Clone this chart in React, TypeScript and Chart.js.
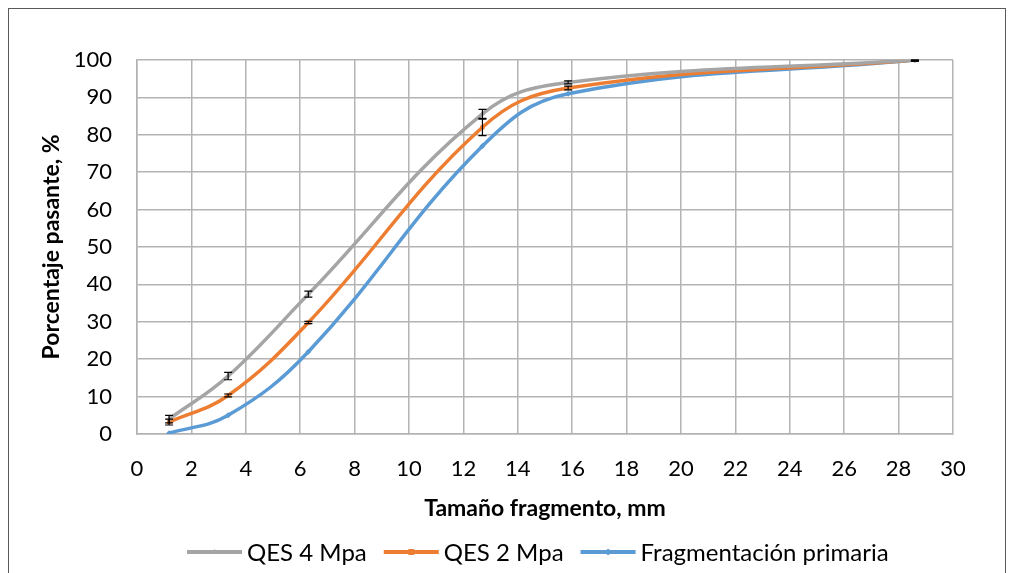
import React, { useEffect, useRef } from "react";
import { Chart, registerables } from "chart.js";

Chart.register(...registerables);

const sizes = [1.18, 3.35, 6.3, 12.7, 15.85, 28.6];
const qes4 = [4, 15.5, 37.4, 85.6, 94, 100];
const qes2 = [3.2, 10.3, 29.8, 82, 92.5, 100];
const primaria = [0.2, 5, 22, 77, 91, 100];
const qes4Err = [1, 1, 0.8, 1.2, 0.4, 0.3];
const qes2Err = [0.8, 0.4, 0.3, 2.2, 0.5, 0.3];
const xTicks = [0, 2, 4, 6, 8, 10, 12, 14, 16, 18, 20, 22, 24, 26, 28, 30];
const yTicks = [0, 10, 20, 30, 40, 50, 60, 70, 80, 90, 100];

const seriesNames = ["QES 4 Mpa", "QES 2 Mpa", "Fragmentación primaria"];
const colors = ["#A5A5A5", "#ED7D31", "#5B9BD5"];
const markers = ["triangle", "rect", "rectRot"];

const FONT = "Lato, 'Open Sans', sans-serif";

function drawMarker(g: CanvasRenderingContext2D, marker: string, x: number, y: number, r: number) {
  g.beginPath();
  if (marker === "triangle") {
    g.moveTo(x, y - r);
    g.lineTo(x + r, y + r * 0.7);
    g.lineTo(x - r, y + r * 0.7);
  } else if (marker === "rect") {
    g.rect(x - r, y - r, 2 * r, 2 * r);
  } else {
    g.moveTo(x, y - r * 1.2);
    g.lineTo(x + r * 1.2, y);
    g.lineTo(x, y + r * 1.2);
    g.lineTo(x - r * 1.2, y);
  }
  g.closePath();
  g.fill();
}

const errorBarPlugin = {
  id: "errorBars",
  afterDatasetsDraw(chart: any) {
    const ctx = chart.ctx;
    const xs = chart.scales.x;
    const ys = chart.scales.y;
    const errs = [qes4Err, qes2Err];
    const vals = [qes4, qes2];
    ctx.save();
    ctx.strokeStyle = "#000";
    ctx.lineWidth = 1.2;
    errs.forEach((err, s) => {
      err.forEach((e, i) => {
        const x = xs.getPixelForValue(sizes[i]);
        const yTop = ys.getPixelForValue(Math.min(100, vals[s][i] + e));
        const yBot = ys.getPixelForValue(vals[s][i] - e);
        ctx.beginPath();
        ctx.moveTo(x, yTop);
        ctx.lineTo(x, yBot);
        ctx.moveTo(x - 4, yTop);
        ctx.lineTo(x + 4, yTop);
        ctx.moveTo(x - 4, yBot);
        ctx.lineTo(x + 4, yBot);
        ctx.stroke();
      });
    });
    ctx.restore();
  },
};

const legendPlugin = {
  id: "bottomLegend",
  afterDraw(chart: any) {
    const ctx = chart.ctx as CanvasRenderingContext2D;
    ctx.save();
    ctx.font = `24px ${FONT}`;
    ctx.textBaseline = "middle";
    ctx.textAlign = "left";
    const y = 543;
    let x = 178;
    seriesNames.forEach((name, i) => {
      ctx.strokeStyle = colors[i];
      ctx.fillStyle = colors[i];
      ctx.lineWidth = 4;
      ctx.beginPath();
      ctx.moveTo(x, y);
      ctx.lineTo(x + 55, y);
      ctx.stroke();
      drawMarker(ctx, markers[i], x + 27.5, y, 3);
      x += 60;
      ctx.fillStyle = "#000";
      ctx.fillText(name, x, y + 1);
      x += ctx.measureText(name).width + 17;
    });
    ctx.restore();
  },
};

export default function App() {
  const ref = useRef<HTMLCanvasElement | null>(null);
  useEffect(() => {
    if (!ref.current) return;
    const series = [qes4, qes2, primaria];
    const chart = new Chart(ref.current, {
      type: "line",
      data: {
        datasets: series.map((vals, s) => ({
          label: seriesNames[s],
          data: sizes.map((x, i) => ({ x, y: vals[i] })),
          borderColor: colors[s],
          backgroundColor: colors[s],
          borderWidth: 3.5,
          pointStyle: markers[s] as any,
          pointRadius: 3,
          pointBorderWidth: 0,
          tension: 0.4,
          fill: false,
        })),
      },
      options: {
        animation: false,
        responsive: false,
        maintainAspectRatio: false,
        layout: { padding: { left: 29, right: 52, top: 51, bottom: 55 } },
        plugins: {
          tooltip: { enabled: false },
          legend: { display: false },
        },
        scales: {
          x: {
            type: "linear",
            min: 0,
            max: 30,
            afterBuildTicks: (axis: any) => {
              axis.ticks = xTicks.map((v) => ({ value: v }));
            },
            afterFit: (axis: any) => {
              axis.height = 88;
            },
            ticks: {
              font: { family: FONT, size: 22 },
              color: "#000",
              padding: 22,
              maxRotation: 0,
            },
            grid: { color: "#B3B3B3", lineWidth: 1.5, tickLength: 0 },
            border: { color: "#B3B3B3", width: 1.5 },
            title: {
              display: true,
              text: "Tamaño fragmento, mm",
              font: { family: FONT, size: 23, weight: "bold" },
              color: "#000",
              padding: 0,
            },
          },
          y: {
            type: "linear",
            min: 0,
            max: 100,
            afterBuildTicks: (axis: any) => {
              axis.ticks = yTicks.map((v) => ({ value: v }));
            },
            afterFit: (axis: any) => {
              axis.width = 99;
            },
            ticks: {
              font: { family: FONT, size: 22 },
              color: "#000",
              padding: 25,
            },
            grid: { color: "#B3B3B3", lineWidth: 1.5, tickLength: 0 },
            border: { color: "#B3B3B3", width: 1.5 },
            title: {
              display: true,
              text: "Porcentaje pasante, %",
              font: { family: FONT, size: 23, weight: "bold" },
              color: "#000",
              padding: 0,
            },
          },
        },
      },
      plugins: [errorBarPlugin, legendPlugin],
    });
    return () => chart.destroy();
  }, []);
  return (
    <div
      style={{
        width: 998,
        height: 570,
        border: "1px solid #595959",
        boxSizing: "border-box",
        background: "#fff",
      }}
    >
      <canvas ref={ref} width={996} height={568} style={{ display: "block" }} />
    </div>
  );
}
